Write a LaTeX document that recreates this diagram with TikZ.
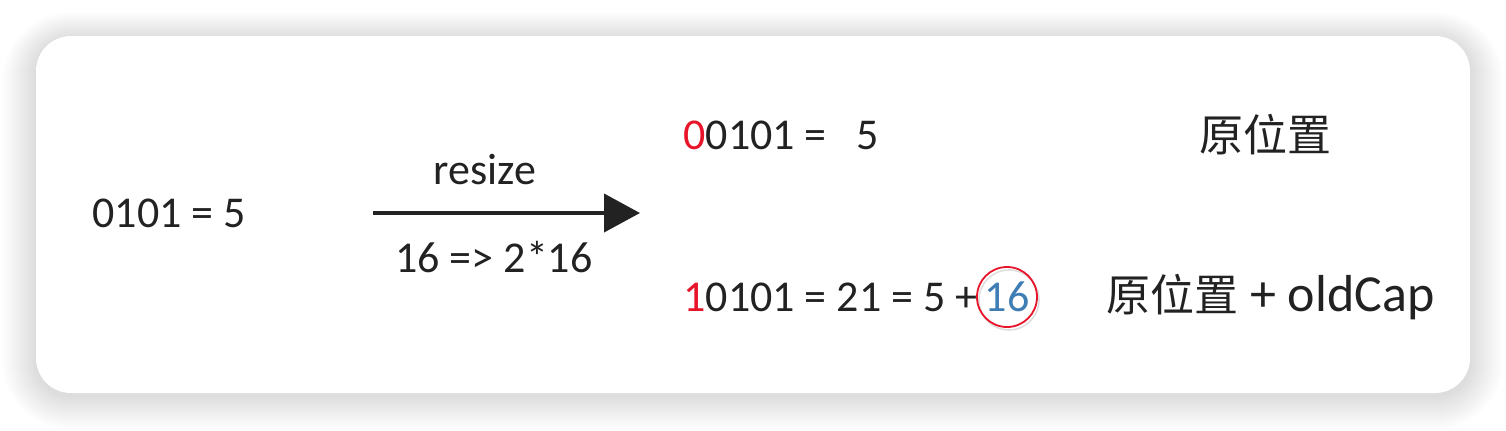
\documentclass[tikz,border=0pt]{standalone}
\usepackage{fontspec}
\setmainfont{Carlito}
\newfontfamily\cjk{Noto Sans CJK SC}
\usepackage{xcolor}
\usetikzlibrary{positioning,arrows.meta}
\definecolor{txtgray}{HTML}{222222}
\definecolor{bitred}{HTML}{E8142A}
\definecolor{capblue}{HTML}{3F7DB5}
\tikzset{num/.style={text=txtgray,font=\fontsize{22}{26}\selectfont,inner sep=0pt}}
\tikzset{hanzi/.style={text=txtgray,font=\fontsize{22}{26}\selectfont\cjk,inner sep=0pt}}
\tikzset{harrow/.style={-{Triangle[length=18pt,width=19pt]},line width=2pt,draw=txtgray}}

\begin{document}
\begin{tikzpicture}[x=0.5pt,y=-0.5pt]
            \useasboundingbox (0,0) rectangle (1506,430);
            % draw the card with its soft shadow
            \fill[white] (0,0) rectangle (1506,430);
            \foreach \i in {1,...,34}
                \fill[black,opacity=0.0045,rounded corners=17.5pt+\i*0.5pt]
                    (36-\i,36-0.8*\i+3) rectangle (1470+\i,393+\i+3);
            \fill[white,rounded corners=17.5pt] (36,36) rectangle (1470,393);
            % draw the old value
            \node[num,anchor=west] (old) at (92,213) {0101 = 5};
            % draw the resize arrow
            \coordinate (as) at (373,213);
            \coordinate (ae) at (640,213);
            \draw[harrow] (as) -- (ae);
            \node[num] (rs) at (485,170) {resize};
            \node[num] (cap) at (494,257) {16 => 2*16};
            % draw the two new positions
            \node[num,anchor=west] (lo) at (683,135) {\textcolor{bitred}{0}0101 =\ \ \ 5};
            \node[num,anchor=west] (hi) at (683,297) {\textcolor{bitred}{1}0101 = 21 = 5 +};
            \draw[gray!25,line width=0.8pt] (1009,300) circle[radius=30];
            \node[num,text=capblue,circle,draw=bitred,line width=0.9pt,minimum size=30pt] (old16) at (1007,297) {16};
            \node[hanzi] (same) at (1265,135) {原位置};
            \node[num,anchor=west,font=\fontsize{26}{30}\selectfont] (moved) at (1106,297) {{\fontsize{22}{26}\selectfont\cjk 原位置} + oldCap};
        \end{tikzpicture}
\end{document}
